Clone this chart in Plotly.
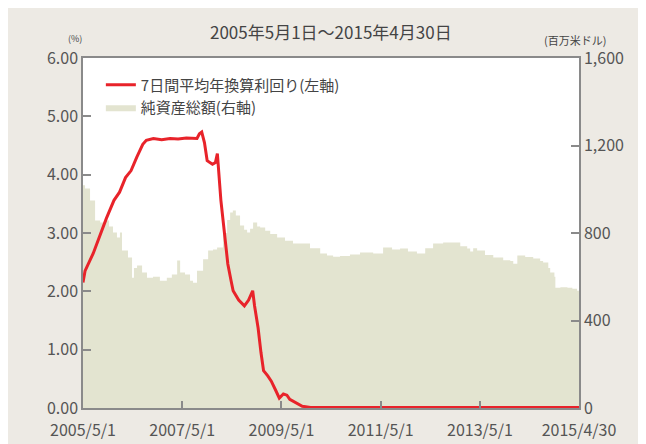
import plotly.graph_objects as go

# 7-day average annualized yield (%), left axis
yield_dates = ["2005-05-01", "2005-05-16", "2005-07-15", "2005-09-01", "2005-10-20", "2005-12-15",
               "2006-01-25", "2006-03-10", "2006-04-20", "2006-06-01", "2006-07-15", "2006-08-10",
               "2006-10-01", "2006-12-01", "2007-02-01", "2007-04-01", "2007-06-01", "2007-08-18",
               "2007-09-05", "2007-09-22", "2007-10-12", "2007-11-01", "2007-12-10", "2008-01-01",
               "2008-01-15", "2008-02-10", "2008-03-01", "2008-04-01", "2008-04-25", "2008-05-10",
               "2008-06-20", "2008-08-01", "2008-09-01", "2008-10-01", "2008-10-15", "2008-11-10",
               "2008-12-01", "2008-12-20", "2009-01-20", "2009-02-15", "2009-03-20", "2009-04-15",
               "2009-05-15", "2009-06-10", "2009-07-01", "2009-08-15", "2009-10-01", "2009-12-01",
               "2015-04-30"]
yield_values = [2.15, 2.35, 2.65, 2.95, 3.25, 3.56,
                3.70, 3.95, 4.07, 4.30, 4.52, 4.59,
                4.62, 4.60, 4.62, 4.61, 4.63, 4.62,
                4.70, 4.73, 4.55, 4.24, 4.18, 4.21,
                4.36, 3.56, 3.16, 2.47, 2.18, 2.01,
                1.85, 1.75, 1.85, 2.01, 1.75, 1.37,
                0.95, 0.64, 0.55, 0.46, 0.30, 0.17,
                0.24, 0.22, 0.15, 0.09, 0.03, 0.01,
                0.01]

# Net assets (million USD), right axis
asset_dates = ["2005-05-01", "2005-05-16", "2005-06-22", "2005-07-29", "2005-09-04", "2005-10-11",
               "2005-11-09", "2005-12-08", "2006-01-06", "2006-01-28", "2006-02-12", "2006-03-28",
               "2006-04-27", "2006-05-11", "2006-06-03", "2006-07-10", "2006-08-15", "2006-09-28",
               "2006-11-18", "2007-01-08", "2007-02-14", "2007-03-25", "2007-04-16", "2007-05-22",
               "2007-06-28", "2007-07-20", "2007-08-18", "2007-10-02", "2007-11-08", "2007-12-14",
               "2008-01-13", "2008-02-26", "2008-03-27", "2008-04-18", "2008-05-08", "2008-05-30",
               "2008-06-30", "2008-07-30", "2008-08-21", "2008-09-12", "2008-10-04", "2008-11-03",
               "2008-11-25", "2009-01-01", "2009-02-07", "2009-03-30", "2009-05-27", "2009-07-25",
               "2009-09-15", "2009-11-27", "2010-02-10", "2010-04-01", "2010-05-16", "2010-07-06",
               "2010-09-17", "2010-11-30", "2011-03-07", "2011-05-19", "2011-07-24", "2011-09-21",
               "2011-11-18", "2012-01-23", "2012-03-24", "2012-05-21", "2012-08-03", "2012-10-16",
               "2012-12-07", "2013-01-27", "2013-02-18", "2013-03-12", "2013-04-10", "2013-06-07",
               "2013-08-07", "2013-10-19", "2013-12-10", "2014-01-01", "2014-01-31", "2014-03-30",
               "2014-05-28", "2014-07-18", "2014-08-09", "2014-09-16", "2014-09-30", "2014-10-31",
               "2014-11-07", "2014-12-14", "2015-02-04", "2015-03-12", "2015-04-16", "2015-04-30"]
asset_values = [1018, 1004, 949, 857, 848, 857,
                830, 802, 779, 802, 720, 688,
                596, 640, 651, 620, 596, 600,
                582, 596, 610, 674, 619, 610,
                582, 573, 628, 680, 720, 725,
                734, 800, 860, 894, 903, 880,
                834, 815, 802, 820, 848, 830,
                825, 810, 795, 779, 765, 752,
                752, 730, 706, 697, 692, 695,
                702, 711, 706, 734, 725, 729,
                715, 706, 730, 752, 757, 757,
                740, 729, 715, 730, 720, 700,
                688, 675, 672, 660, 697, 690,
                683, 672, 665, 640, 619, 600,
                550, 552, 550, 545, 536, 534]

x_tick_dates = ["2005-05-01", "2007-05-01", "2009-05-01", "2011-05-01", "2013-05-01", "2015-04-30"]
x_tick_labels = ["2005/5/1", "2007/5/1", "2009/5/1", "2011/5/1", "2013/5/1", "2015/4/30"]
left_ticks = [0, 1, 2, 3, 4, 5, 6]
left_labels = ["0.00", "1.00", "2.00", "3.00", "4.00", "5.00", "6.00"]
right_ticks = [0, 400, 800, 1200, 1600]
right_labels = ["0", "400", "800", "1,200", "1,600"]

title_text = "2005年5月1日～2015年4月30日"
line_name = "7日間平均年換算利回り(左軸)"
area_name = "純資産総額(右軸)"

FONT = "Noto Sans CJK JP"
BG = "#EDEAE4"
AXIS = "#8a8a8a"
TXT = "#555555"
TICKFONT = dict(size=16, color=TXT)

fig = go.Figure()
fig.add_trace(go.Scatter(
    x=asset_dates, y=asset_values, name=area_name, mode="lines",
    line=dict(width=0, color="#E3E4D0", shape="hv"), fill="tozeroy",
    fillcolor="#E3E4D0", yaxis="y", legendrank=2))
fig.add_trace(go.Scatter(
    x=yield_dates, y=yield_values, name=line_name, mode="lines",
    line=dict(width=3, color="#E8232A"), yaxis="y2", legendrank=1))

fig.update_layout(
    width=646, height=444,
    margin=dict(l=75, r=75, t=50, b=44),
    paper_bgcolor=BG, plot_bgcolor="white",
    font=dict(family=FONT, size=15, color=TXT),
    showlegend=True,
    legend=dict(x=0.036, y=0.97, xanchor="left", yanchor="top",
                bgcolor="rgba(0,0,0,0)", font=dict(size=15, color="#444"),
                itemwidth=30, tracegroupgap=0),
    xaxis=dict(type="date", range=["2005-05-01", "2015-04-30"],
               tickvals=x_tick_dates, ticktext=x_tick_labels,
               ticks="inside", ticklen=7, tickcolor=AXIS, tickwidth=1.5,
               ticklabelstandoff=7,
               showline=True, linecolor=AXIS, linewidth=1.5, mirror=True,
               showgrid=False, zeroline=False, tickfont=TICKFONT),
    yaxis=dict(range=[0, 1600], side="right", tickvals=right_ticks, ticktext=right_labels,
               ticks="inside", ticklen=8, tickcolor=AXIS, tickwidth=1.5,
               showline=True, linecolor=AXIS, linewidth=1.5,
               showgrid=False, zeroline=False, tickfont=TICKFONT),
    yaxis2=dict(range=[0, 6], side="left", overlaying="y", tickvals=left_ticks, ticktext=left_labels,
                ticks="inside", ticklen=8, tickcolor=AXIS, tickwidth=1.5,
                showline=True, linecolor=AXIS, linewidth=1.5,
                showgrid=False, zeroline=False, tickfont=TICKFONT),
    annotations=[
        dict(text=title_text, xref="paper", yref="paper", x=0.5, y=1.0, yshift=12,
             xanchor="center", yanchor="bottom", showarrow=False,
             font=dict(size=17, color="#444")),
        dict(text="(%)", xref="paper", yref="paper", x=0, y=1.0, xshift=-8, yshift=11,
             xanchor="center", yanchor="bottom", showarrow=False,
             font=dict(size=9, color="#444")),
        dict(text="(百万米ドル)", xref="paper", yref="paper", x=1.0, y=1.0, xshift=-37, yshift=8,
             xanchor="left", yanchor="bottom", showarrow=False,
             font=dict(size=11, color="#444")),
    ],
)

fig.write_html("out.html")
